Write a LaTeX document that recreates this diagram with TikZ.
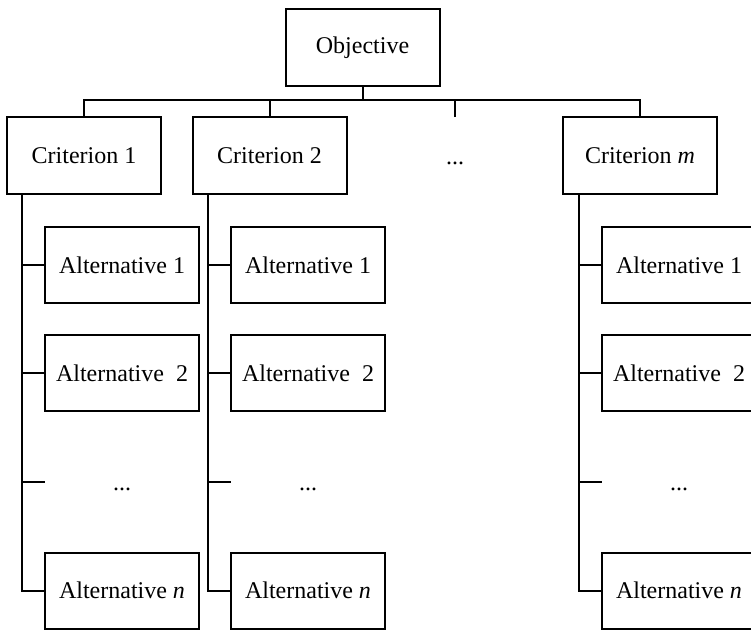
\documentclass[tikz,border=0pt]{standalone}
\usepackage{fontspec}
\setmainfont{Liberation Serif}
\begin{document}
\begin{tikzpicture}[x=1pt,y=-1pt,line width=2pt,
  box/.style={draw,line width=2pt,minimum width=154pt,minimum height=77pt,inner sep=0pt,font=\fontsize{24}{28}\selectfont},
  altbox/.style={box,minimum height=76pt},
  dots/.style={inner sep=0pt,anchor=base,font=\fontsize{24}{28}\selectfont},
  conn/.style={draw,line width=2pt}]
\useasboundingbox (0,0) rectangle (751,629);
\clip (0,0) rectangle (751,629);
% top
\node[box] (obj) at (362.5,47.5) {Objective};
\node[box] (c1) at (84,155.5) {Criterion 1};
\node[box] (c2) at (269.5,155.5) {Criterion 2};
\node[box] (cm) at (640,155.5) {Criterion \textit{m}};
\node[dots] (d0) at (455,164) {...};
\coordinate (bar) at (0,100);
\coordinate (dtop) at (455,117);
\draw[conn] (obj.south) -- (obj.south |- bar);
\draw[conn] (c1.north) -- (c1.north |- bar) -- (cm.north |- bar) -- (cm.north);
\draw[conn] (c2.north) -- (c2.north |- bar);
\draw[conn] (dtop) -- (dtop |- bar);
% columns
\foreach \c/\cx/\vx in {1/122/22, 2/308/208, m/679/579}{
  \node[altbox] (a\c1) at (\cx,265) {Alternative 1};
  \node[altbox] (a\c2) at (\cx,373) {Alternative\ \ 2};
  \node[dots] (ad\c) at (\cx,490) {...};
  \node[altbox] (a\c n) at (\cx,590.5) {Alternative \textit{n}};
  \coordinate (v\c) at (\vx,194);
  \coordinate (s\c) at (\cx-77,482);
  \draw[conn] (v\c) |- (a\c n.west);
  \draw[conn] (v\c |- a\c1.west) -- (a\c1.west);
  \draw[conn] (v\c |- a\c2.west) -- (a\c2.west);
  \draw[conn] (v\c |- s\c) -- (s\c);
}
\end{tikzpicture}
\end{document}
